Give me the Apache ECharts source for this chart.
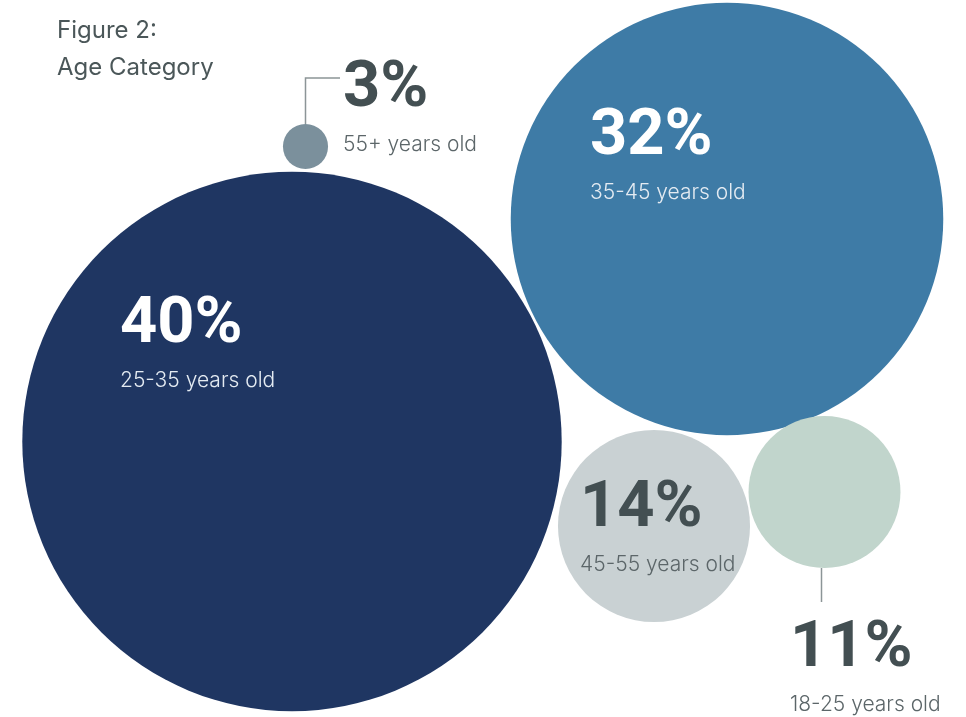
<!DOCTYPE html>
<html>
<head>
<meta charset="utf-8">
<script src="https://cdn.jsdelivr.net/npm/echarts@6/dist/echarts.min.js"></script>
<style>
  html, body { margin: 0; padding: 0; background: #ffffff; }
  #chart { width: 966px; height: 717px; }
</style>
</head>
<body>
<div id="chart"></div>
<script>
// Age groups and their share of respondents (%)
const categories = ['25-35 years old', '35-45 years old', '55+ years old', '45-55 years old', '18-25 years old'];
const shares = [40, 32, 3, 14, 11];

// Bubble layout (page coordinates of each bubble centre) and fills
const bubbleCenters = [[292, 441.5], [727, 219], [305.5, 146.5], [654, 526], [824.5, 492]];
const bubbleColors = ['#1f3662', '#3e7ba6', '#7b909c', '#c9d1d3', '#c1d5cc'];
// Top-left corner of each label block (cap top of the percentage)
const labelAnchors = [[120, 298], [590, 110], [343, 62], [580, 482], [790, 622]];
const labelOnDark = [true, true, false, false, false];

const W = 966, H = 717;
const FONT = 'Inter, "Noto Sans", sans-serif';
const BIG_FONT = 'Roboto, Inter, sans-serif';

// Radius grows linearly with the share
function radiusOf(pct) { return 6.68 * pct + 2.5; }

const data = shares.map((v, i) => {
  const r = radiusOf(v);
  const [cx, cy] = bubbleCenters[i];
  const [ax, ay] = labelAnchors[i];
  const dark = labelOnDark[i];
  return {
    name: categories[i],
    value: [cx, cy, v],
    symbolSize: 2 * r,
    itemStyle: { color: bubbleColors[i], opacity: 1 },
    label: {
      show: true,
      opacity: 1,
      position: [ax - (cx - r), ay - (cy - r) - 8],
      align: 'left',
      verticalAlign: 'top',
      formatter: '{p|' + v + '%}\n{s|' + categories[i] + '}',
      rich: {
        p: {
          fontFamily: BIG_FONT, fontSize: 65, fontWeight: 700, lineHeight: 72,
          color: dark ? '#ffffff' : '#434f52'
        },
        s: {
          fontFamily: FONT, fontSize: 21, fontWeight: 300, lineHeight: 38,
          color: dark ? '#e4ebf2' : '#5c6669'
        }
      }
    }
  };
});

const chart = echarts.init(document.getElementById('chart'), null, { renderer: 'canvas', width: W, height: H });

// Leader lines for the bubbles whose labels sit outside them
const small = 2, r3 = radiusOf(shares[small]);
const eleven = 4, r11 = radiusOf(shares[eleven]);

chart.setOption({
  animation: false,
  backgroundColor: '#ffffff',
  grid: { left: 0, right: 0, top: 0, bottom: 0 },
  xAxis: { type: 'value', min: 0, max: W, show: false },
  yAxis: { type: 'value', min: 0, max: H, inverse: true, show: false },
  graphic: [
    {
      type: 'text', left: 57, top: 12,
      style: { text: 'Figure 2:\nAge Category', font: '400 24px ' + FONT, fill: '#4b5759', lineHeight: 37 }
    },
    {
      type: 'polyline', silent: true,
      shape: { points: [
        [bubbleCenters[small][0], bubbleCenters[small][1] - r3],
        [bubbleCenters[small][0], 78],
        [340, 78]
      ] },
      style: { stroke: '#8c9597', lineWidth: 1.5, fill: null }
    },
    {
      type: 'line', silent: true,
      shape: {
        x1: bubbleCenters[eleven][0] - 3, y1: bubbleCenters[eleven][1] + r11,
        x2: bubbleCenters[eleven][0] - 3, y2: 602
      },
      style: { stroke: '#8c9597', lineWidth: 1.5 }
    }
  ],
  series: [{
    type: 'scatter',
    symbol: 'circle',
    clip: false,
    emphasis: { disabled: true },
    data: data
  }]
});
</script>
</body>
</html>
